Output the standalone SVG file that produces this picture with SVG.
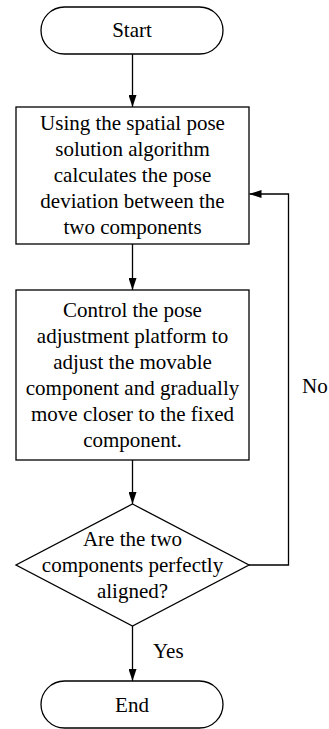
<svg xmlns="http://www.w3.org/2000/svg" width="329" height="729" viewBox="0 0 329 729">
  <style>
    .shape { fill: #ffffff; stroke: #000000; stroke-width: 1.3; }
    .edge { fill: none; stroke: #000000; stroke-width: 1.3; }
    text { font-family: "Liberation Serif", "Times New Roman", serif; font-size: 21px; fill: #000000; }
    .c { text-anchor: middle; }
  </style>
  <defs>
    <marker id="arrow" markerWidth="12" markerHeight="8" refX="12" refY="4" orient="auto" markerUnits="userSpaceOnUse">
      <path d="M0,0 L12,4 L0,8 Z" fill="#000000"/>
    </marker>
  </defs>

  <rect width="329" height="729" fill="#ffffff"/>

  <!-- connectors -->
  <g id="connectors">
    <line class="edge" x1="132.5" y1="54" x2="132.5" y2="107" marker-end="url(#arrow)"/>
    <line class="edge" x1="132.5" y1="244" x2="132.5" y2="290" marker-end="url(#arrow)"/>
    <line class="edge" x1="132.5" y1="460" x2="132.5" y2="504" marker-end="url(#arrow)"/>
    <line class="edge" x1="132.5" y1="626" x2="132.5" y2="681" marker-end="url(#arrow)"/>
    <polyline class="edge" points="249,565 288.5,565 288.5,194 249.5,194" marker-end="url(#arrow)"/>
    <text x="153" y="658">Yes</text>
    <text x="302" y="393">No</text>
  </g>

  <!-- start terminal -->
  <g id="start">
    <rect class="shape" x="41" y="7" width="182" height="47" rx="23.5" ry="23.5"/>
    <text class="c" x="132" y="37">Start</text>
  </g>

  <!-- pose deviation step -->
  <g id="compute">
    <rect class="shape" x="16" y="107" width="233" height="137"/>
    <text class="c" x="132.5" y="130">Using the spatial pose</text>
    <text class="c" x="132.5" y="156">solution algorithm</text>
    <text class="c" x="132.5" y="182">calculates the pose</text>
    <text class="c" x="132.5" y="208">deviation between the</text>
    <text class="c" x="132.5" y="234">two components</text>
  </g>

  <!-- adjustment step -->
  <g id="adjust">
    <rect class="shape" x="16" y="290" width="233" height="170"/>
    <text class="c" x="132.5" y="317">Control the pose</text>
    <text class="c" x="132.5" y="343">adjustment platform to</text>
    <text class="c" x="132.5" y="369">adjust the movable</text>
    <text class="c" x="132.5" y="395">component and gradually</text>
    <text class="c" x="132.5" y="421">move closer to the fixed</text>
    <text class="c" x="132.5" y="447">component.</text>
  </g>

  <!-- alignment decision -->
  <g id="decision">
    <polygon class="shape" points="132.5,504 249,565 132.5,626 16,565"/>
    <text class="c" x="132.5" y="546">Are the two</text>
    <text class="c" x="132.5" y="572">components perfectly</text>
    <text class="c" x="132.5" y="598">aligned?</text>
  </g>

  <!-- end terminal -->
  <g id="end">
    <rect class="shape" x="41" y="681" width="182" height="47" rx="23.5" ry="23.5"/>
    <text class="c" x="132" y="712">End</text>
  </g>
</svg>
